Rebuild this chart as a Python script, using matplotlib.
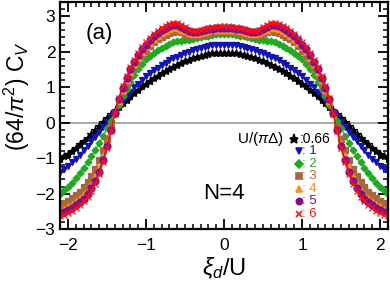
import numpy as np
import matplotlib
matplotlib.use('Agg')
import matplotlib.pyplot as plt

plt.rcParams['font.family'] = ['Liberation Sans', 'DejaVu Sans']
plt.rcParams['mathtext.fontset'] = 'custom'
plt.rcParams['mathtext.rm'] = 'Liberation Sans'
plt.rcParams['mathtext.it'] = 'Liberation Sans:italic'
plt.rcParams['mathtext.bf'] = 'Liberation Sans:bold'

# xi_d/U grid, step 0.05
xi = np.round(np.linspace(-2.1, 2.1, 85), 2)

# (64/pi^2) C_V for U/(pi Delta) = 0.66, 1, 2, 3, 4, 5, 6
cv_066 = [-1.02, -0.95, -0.87, -0.79, -0.70, -0.61, -0.52, -0.42, -0.32, -0.21,
          -0.10, 0.01, 0.12, 0.23, 0.34, 0.45, 0.55, 0.65, 0.75, 0.84,
          0.93, 1.02, 1.10, 1.18, 1.25, 1.32, 1.39, 1.46, 1.52, 1.58,
          1.63, 1.68, 1.73, 1.77, 1.81, 1.85, 1.88, 1.91, 1.93, 1.95,
          1.96, 1.97, 1.97,
          1.97, 1.96, 1.95, 1.93, 1.91, 1.88, 1.85, 1.81, 1.77, 1.73,
          1.68, 1.63, 1.58, 1.52, 1.46, 1.39, 1.32, 1.25, 1.18, 1.10,
          1.02, 0.93, 0.84, 0.75, 0.65, 0.55, 0.45, 0.34, 0.23, 0.12,
          0.01, -0.10, -0.21, -0.32, -0.42, -0.52, -0.61, -0.70, -0.79, -0.87,
          -0.95, -1.02]
cv_1 = [-1.40, -1.31, -1.22, -1.12, -1.01, -0.90, -0.78, -0.66, -0.53, -0.40,
        -0.27, -0.13, 0.01, 0.15, 0.30, 0.45, 0.60, 0.74, 0.87, 0.99,
        1.10, 1.20, 1.30, 1.39, 1.47, 1.55, 1.62, 1.69, 1.75, 1.81,
        1.86, 1.91, 1.96, 2.00, 2.04, 2.08, 2.11, 2.14, 2.16, 2.18,
        2.19, 2.20, 2.20,
        2.20, 2.19, 2.18, 2.16, 2.14, 2.11, 2.08, 2.04, 2.00, 1.96,
        1.91, 1.86, 1.81, 1.75, 1.69, 1.62, 1.55, 1.47, 1.39, 1.30,
        1.20, 1.10, 0.99, 0.87, 0.74, 0.60, 0.45, 0.30, 0.15, 0.01,
        -0.13, -0.27, -0.40, -0.53, -0.66, -0.78, -0.90, -1.01, -1.12, -1.22,
        -1.31, -1.40]
cv_2 = [-2.00, -1.90, -1.80, -1.69, -1.56, -1.43, -1.28, -1.12, -0.95, -0.77,
        -0.58, -0.38, -0.16, 0.06, 0.28, 0.51, 0.74, 0.95, 1.15, 1.34,
        1.50, 1.65, 1.78, 1.88, 1.97, 2.04, 2.10, 2.16, 2.22, 2.26,
        2.29, 2.31, 2.32, 2.33, 2.35, 2.37, 2.40, 2.43, 2.45, 2.47,
        2.49, 2.50, 2.50,
        2.50, 2.49, 2.47, 2.45, 2.43, 2.40, 2.37, 2.35, 2.33, 2.32,
        2.31, 2.29, 2.26, 2.22, 2.16, 2.10, 2.04, 1.97, 1.88, 1.78,
        1.65, 1.50, 1.34, 1.15, 0.95, 0.74, 0.51, 0.28, 0.06, -0.16,
        -0.38, -0.58, -0.77, -0.95, -1.12, -1.28, -1.43, -1.56, -1.69, -1.80,
        -1.90, -2.00]
cv_3 = [-2.32, -2.27, -2.20, -2.13, -2.04, -1.94, -1.82, -1.68, -1.50, -1.30,
        -1.05, -0.77, -0.45, -0.10, 0.25, 0.57, 0.85, 1.10, 1.32, 1.53,
        1.72, 1.88, 2.02, 2.15, 2.26, 2.35, 2.42, 2.48, 2.53, 2.56,
        2.57, 2.55, 2.50, 2.46, 2.45, 2.46, 2.48, 2.51, 2.53, 2.55,
        2.56, 2.57, 2.57,
        2.57, 2.56, 2.55, 2.53, 2.51, 2.48, 2.46, 2.45, 2.46, 2.50,
        2.55, 2.57, 2.56, 2.53, 2.48, 2.42, 2.35, 2.26, 2.15, 2.02,
        1.88, 1.72, 1.53, 1.32, 1.10, 0.85, 0.57, 0.25, -0.10, -0.45,
        -0.77, -1.05, -1.30, -1.50, -1.68, -1.82, -1.94, -2.04, -2.13, -2.20,
        -2.27, -2.32]
cv_4 = [-2.46, -2.42, -2.36, -2.30, -2.22, -2.13, -2.02, -1.89, -1.72, -1.51,
        -1.25, -0.94, -0.58, -0.17, 0.25, 0.62, 0.92, 1.19, 1.42, 1.64,
        1.83, 1.99, 2.12, 2.25, 2.36, 2.45, 2.52, 2.58, 2.63, 2.66,
        2.66, 2.62, 2.57, 2.52, 2.50, 2.51, 2.53, 2.56, 2.58, 2.60,
        2.61, 2.62, 2.62,
        2.62, 2.61, 2.60, 2.58, 2.56, 2.53, 2.51, 2.50, 2.52, 2.57,
        2.62, 2.66, 2.66, 2.63, 2.58, 2.52, 2.45, 2.36, 2.25, 2.12,
        1.99, 1.83, 1.64, 1.42, 1.19, 0.92, 0.62, 0.25, -0.17, -0.58,
        -0.94, -1.25, -1.51, -1.72, -1.89, -2.02, -2.13, -2.22, -2.30, -2.36,
        -2.42, -2.46]
cv_5 = [-2.55, -2.51, -2.46, -2.40, -2.33, -2.24, -2.14, -2.01, -1.85, -1.64,
        -1.38, -1.05, -0.66, -0.22, 0.26, 0.66, 0.98, 1.26, 1.50, 1.71,
        1.90, 2.06, 2.20, 2.32, 2.43, 2.52, 2.60, 2.66, 2.71, 2.74,
        2.74, 2.69, 2.63, 2.58, 2.55, 2.56, 2.58, 2.61, 2.63, 2.65,
        2.66, 2.67, 2.67,
        2.67, 2.66, 2.65, 2.63, 2.61, 2.58, 2.56, 2.55, 2.58, 2.63,
        2.69, 2.74, 2.74, 2.71, 2.66, 2.60, 2.52, 2.43, 2.32, 2.20,
        2.06, 1.90, 1.71, 1.50, 1.26, 0.98, 0.66, 0.26, -0.22, -0.66,
        -1.05, -1.38, -1.64, -1.85, -2.01, -2.14, -2.24, -2.33, -2.40, -2.46,
        -2.51, -2.55]
cv_6 = [-2.63, -2.59, -2.54, -2.48, -2.41, -2.32, -2.22, -2.09, -1.93, -1.72,
        -1.45, -1.12, -0.72, -0.24, 0.27, 0.69, 1.03, 1.31, 1.56, 1.77,
        1.96, 2.12, 2.26, 2.38, 2.49, 2.58, 2.66, 2.73, 2.78, 2.81,
        2.81, 2.75, 2.68, 2.62, 2.58, 2.59, 2.62, 2.65, 2.67, 2.69,
        2.70, 2.71, 2.71,
        2.71, 2.70, 2.69, 2.67, 2.65, 2.62, 2.59, 2.58, 2.62, 2.68,
        2.75, 2.81, 2.81, 2.78, 2.73, 2.66, 2.58, 2.49, 2.38, 2.26,
        2.12, 1.96, 1.77, 1.56, 1.31, 1.03, 0.69, 0.27, -0.24, -0.72,
        -1.12, -1.45, -1.72, -1.93, -2.09, -2.22, -2.32, -2.41, -2.48, -2.54,
        -2.59, -2.63]

u_labels = ['0.66', '1', '2', '3', '4', '5', '6']
colors = ['black', '#1414b4', '#1faa1f', '#a5673b', '#ff8a1e', '#7d0f8a', '#ff1010']
markers = ['*', 'v', 'D', 's', '^', 'o', 'x']
msizes = [6, 4.5, 3.5, 4, 4.5, 5, 5]
series = [cv_066, cv_1, cv_2, cv_3, cv_4, cv_5, cv_6]

fig = plt.figure(figsize=(3.9, 2.87), dpi=100)
ax = fig.add_axes([0.1544, 0.2014, 0.84, 0.792])

ax.axhline(0, color='#a0a0a0', lw=1.3, zorder=0)
for cv, c, m, ms in zip(series, colors, markers, msizes):
    ax.plot(xi, cv, color=c, lw=0.9, marker=m, ms=ms, mew=0.9)

ax.set_xlim(-2.1, 2.1)
ax.set_ylim(-3, 3.4)
ax.set_xticks([-2, -1, 0, 1, 2])
ax.set_xticklabels(['\u22122', '\u22121', '0', '1', '2'])
ax.set_yticks([-3, -2, -1, 0, 1, 2, 3])
ax.set_yticklabels(['\u22123', '\u22122', '\u22121', '0', '1', '2', '3'])
ax.set_xticks(np.arange(-2.1, 2.11, 0.1), minor=True)
ax.set_yticks(np.arange(-3, 3.41, 0.2), minor=True)
ax.tick_params(which='both', direction='in', top=True, right=True, labelsize=12.5)
ax.tick_params(which='major', length=7, width=1.3)
ax.tick_params(which='minor', length=3.5, width=1.1)
ax.tick_params(axis='x', pad=6)
for s in ax.spines.values():
    s.set_linewidth(1.6)

ax.set_xlabel(r'$\xi_d$/U', fontsize=17, labelpad=2)
ax.set_ylabel(r'(64/$\pi^2$) C$_V$', fontsize=16.5)
ax.yaxis.set_label_coords(-0.085, 0.585)

ax.text(-1.78, 2.5, '(a)', fontsize=16, va='center', ha='left')
ax.text(-0.27, -2.0, 'N=4', fontsize=16, va='center', ha='left')
ax.text(0.77, -0.47, r'U/($\pi\Delta$)', fontsize=11, va='center', ha='right')

# legend block: marker symbol + value, one row per U
row_y = [-0.47, -0.81, -1.16, -1.51, -1.87, -2.22, -2.57]
for k, (lab, c, m) in enumerate(zip(u_labels, colors, markers)):
    mx = 0.9 if k == 0 else 0.955
    ax.plot([mx], [row_y[k]], marker=m, color=c, ms=6.5 if k == 0 else 4.5,
            mew=1.2, ls='none', clip_on=False)
    sep = ':' if k == 0 else ': '
    ax.text(mx + 0.065 if k == 0 else mx + 0.045, row_y[k], sep + lab, color=c,
            fontsize=10 if k == 0 else 9.5, va='center', ha='left')

fig.savefig('out.png', dpi=100)
